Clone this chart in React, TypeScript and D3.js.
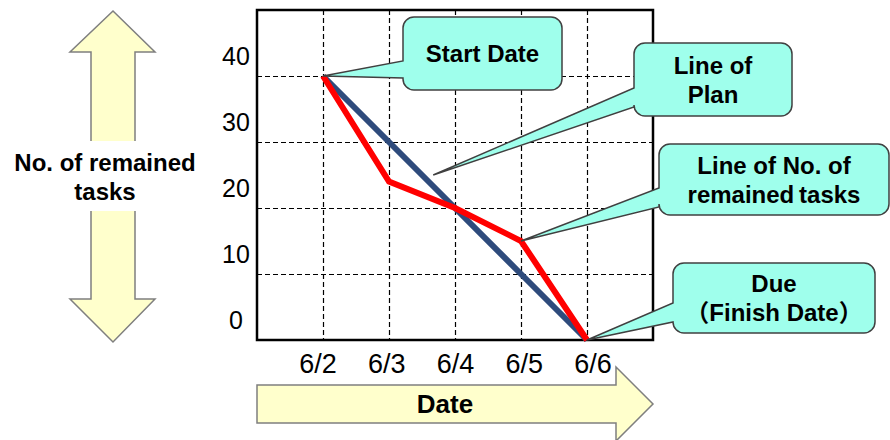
import React from "react";
import * as d3 from "d3";

const dates = ["6/2", "6/3", "6/4", "6/5", "6/6"];
const planValues = [40, 30, 20, 10, 0];
const remainedValues = [40, 24, 20, 15, 0];
const yTicks = [0, 10, 20, 30, 40];
const yGrid = [10, 20, 30, 40];
const yAxisTitle = ["No. of remained", "tasks"];
const xAxisTitle = "Date";

type Callout = {
  lines: string[];
  box: [number, number, number, number];
  wedge: [number, number];
  anchor: [number, number]; // [date index, value]
};

const callouts: Callout[] = [
  { lines: ["Start Date"], box: [403, 17, 562, 90], wedge: [61, 78], anchor: [0, 40] },
  { lines: ["Line of", "Plan"], box: [634, 43, 792, 116], wedge: [88, 107], anchor: [1.67, 25] },
  { lines: ["Line of No. of", "remained\u2009tasks"], box: [659, 144, 889, 215], wedge: [188, 207], anchor: [3, 15] },
  { lines: ["Due", "\uFF08Finish Date\uFF09"], box: [673, 263, 875, 333], wedge: [303, 322], anchor: [4, 0] },
];

const FONT = "'Liberation Sans', Arial, 'Noto Sans CJK JP', sans-serif";

function calloutPath(
  x0: number, y0: number, x1: number, y1: number, r: number,
  wt: number, wb: number, tx: number, ty: number
) {
  return `M${x0 + r},${y0} H${x1 - r} A${r},${r} 0 0 1 ${x1},${y0 + r} V${y1 - r} A${r},${r} 0 0 1 ${x1 - r},${y1} H${x0 + r} A${r},${r} 0 0 1 ${x0},${y1 - r} V${wb} L${tx},${ty} L${x0},${wt} V${y0 + r} A${r},${r} 0 0 1 ${x0 + r},${y0} Z`;
}

export default function App() {
  const left = 257, right = 653, top = 10, bottom = 340;
  const x = d3.scaleLinear().domain([-1, 5]).range([left, right]);
  const y = d3.scaleLinear().domain([0, 50]).range([bottom, top]);
  const xLabel = d3.scaleLinear().domain([0, dates.length - 1]).range([318, 593]);

  const line = d3
    .line<number>()
    .x((_, i) => x(i))
    .y((d) => y(d));

  const r = 11;

  return (
    <svg
      width={890}
      height={440}
      style={{ position: "absolute", left: 0, top: 0, background: "#fff" }}
      fontFamily={FONT}
    >
      {/* left double arrow */}
      <path
        d="M113,11 L155,52 L135,52 L135,299 L155,299 L113,342 L70,299 L91,299 L91,52 L70,52 Z"
        fill="#FFFFCC"
        stroke="#7F7F7F"
        strokeWidth={1.5}
      />
      <rect x={80} y={141} width={66} height={70} fill="#fff" />
      {yAxisTitle.map((t, i) => (
        <text key={t} x={105} y={171 + i * 29} textAnchor="middle" fontSize={24} fontWeight="bold" fill="#000">
          {t}
        </text>
      ))}

      {/* bottom arrow */}
      <path
        d="M257,385 L616,385 L616,367 L653,404 L616,441 L616,423 L257,423 Z"
        fill="#FFFFCC"
        stroke="#7F7F7F"
        strokeWidth={1.5}
      />
      <text x={445} y={413} textAnchor="middle" fontSize={26} fontWeight="bold" fill="#000">
        {xAxisTitle}
      </text>

      {/* grid */}
      {dates.map((d, i) => (
        <line key={"vx" + d} x1={x(i) + 0.5} x2={x(i) + 0.5} y1={top} y2={bottom} stroke="#000" strokeWidth={1.2} strokeDasharray="5,3" />
      ))}
      {yGrid.map((v) => (
        <line key={"hy" + v} x1={left} x2={right} y1={y(v) + 0.5} y2={y(v) + 0.5} stroke="#000" strokeWidth={1.2} strokeDasharray="5,3" />
      ))}
      <rect x={left} y={top} width={right - left} height={bottom - top} fill="none" stroke="#000" strokeWidth={2.5} />

      {/* tick labels */}
      {yTicks.map((v) => (
        <text key={"yt" + v} x={236} y={y(v) - 11} textAnchor="middle" fontSize={25} fill="#000">
          {v}
        </text>
      ))}
      {dates.map((d, i) => (
        <text key={"xt" + d} x={xLabel(i)} y={373} textAnchor="middle" fontSize={27} fill="#000">
          {d}
        </text>
      ))}

      {/* lines */}
      <path d={line(planValues) || ""} fill="none" stroke="#2E4B7C" strokeWidth={6} />
      <path d={line(remainedValues) || ""} fill="none" stroke="#FF0000" strokeWidth={6} strokeLinejoin="miter" />

      {/* callouts */}
      {callouts.map((c, k) => {
        const [x0, y0, x1, y1] = c.box;
        const tx = x(c.anchor[0]);
        const ty = y(c.anchor[1]);
        const cx = (x0 + x1) / 2;
        const cy = (y0 + y1) / 2;
        const n = c.lines.length;
        const lh = 29;
        return (
          <g key={"c" + k}>
            <path
              d={calloutPath(x0, y0, x1, y1, r, c.wedge[0], c.wedge[1], tx, ty)}
              fill="#9FFFEC"
              stroke="#404040"
              strokeWidth={1.5}
            />
            {c.lines.map((t, i) => (
              <text
                key={t}
                x={cx}
                y={cy + 8.5 + (i - (n - 1) / 2) * lh}
                textAnchor="middle"
                fontSize={24}
                fontWeight="bold"
                fill="#000"
              >
                {t}
              </text>
            ))}
          </g>
        );
      })}
    </svg>
  );
}
